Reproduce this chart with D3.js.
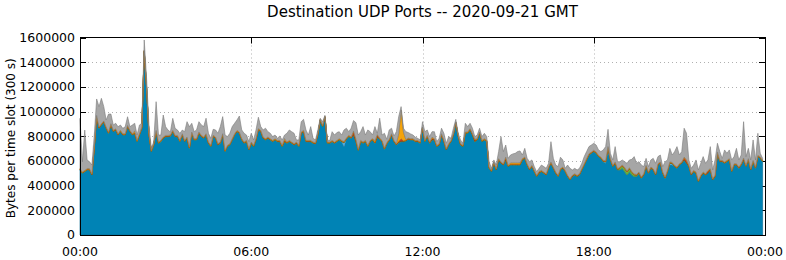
<!DOCTYPE html>
<html><head><meta charset="utf-8">
<script src="https://cdn.jsdelivr.net/npm/d3@7"></script>
<style>body{margin:0;background:#fff}svg{display:block}</style>
</head><body><svg id="c" width="786" height="260"></svg>
<script>
// values in thousands of bytes per 300 s slot, 288 slots (00:00 .. 23:55)
const blue = [
527,500,513,527,527,486,702,958,864,891,913,864,823,891,837,850,810,837,810,810,877,837,810,823,
756,810,864,1485,1188,810,675,729,837,742,756,783,796,796,800,837,796,796,756,810,756,783,702,823,
769,770,824,797,783,810,743,716,797,783,729,743,810,676,716,729,770,810,837,824,770,743,756,689,
743,716,770,851,837,783,770,783,770,756,770,756,756,716,756,743,756,743,729,743,716,824,837,756,
756,756,743,738,810,927,878,951,743,743,756,743,756,770,756,716,775,797,783,810,756,684,756,743,
756,716,756,770,743,791,775,756,694,738,765,810,756,729,748,756,756,762,775,770,770,756,756,743,
864,756,797,743,770,770,716,729,810,756,689,729,756,810,905,797,729,716,824,824,851,810,756,770,
824,756,770,756,540,513,581,527,608,581,567,608,554,567,567,567,567,567,608,621,567,527,554,513,
473,500,513,500,486,540,581,540,500,473,527,540,513,473,446,473,486,473,486,527,567,608,648,662,
676,662,635,621,594,581,676,608,554,581,527,527,540,513,486,513,486,473,473,500,459,486,554,500,
540,527,486,567,581,500,459,513,567,567,554,540,567,581,608,581,554,486,513,500,432,473,500,486,
500,527,446,473,662,594,594,581,594,608,513,567,567,540,567,608,554,608,527,594,540,635,621,594];
const lightBlue = [
0,0,0,0,0,0,0,0,0,0,0,0,0,0,0,0,0,0,0,0,0,0,0,0,
0,0,0,0,0,0,0,0,0,0,0,0,0,0,0,0,0,0,0,0,0,0,0,0,
0,0,0,0,0,0,0,0,0,0,0,0,0,0,0,0,0,0,0,0,0,0,0,0,
0,0,0,0,0,0,0,0,0,0,0,0,0,0,0,0,0,0,0,0,0,0,0,0,
0,0,0,0,0,0,0,0,0,0,0,0,0,0,0,30,0,0,0,0,0,0,0,0,
0,0,0,0,0,0,0,0,0,0,0,0,0,0,0,0,0,0,0,0,0,0,0,0,
0,0,0,0,0,0,0,0,0,0,0,0,0,0,0,0,0,0,0,0,0,0,0,0,
0,0,0,0,0,0,0,0,0,0,0,0,0,0,0,0,0,0,0,0,0,0,0,0,
0,0,0,0,0,0,0,0,0,0,0,0,0,0,0,0,0,0,0,0,0,0,0,0,
0,0,0,0,0,10,30,0,0,0,0,0,0,0,0,0,0,0,0,0,0,0,0,0,
0,0,0,0,0,0,0,0,15,10,0,0,0,0,0,0,0,0,0,0,0,0,0,0,
0,0,0,0,0,0,0,0,0,0,0,0,0,0,0,0,0,0,0,0,0,0,0,0];
const green = [
3,3,3,3,3,3,3,3,3,3,3,3,3,3,3,3,3,3,3,3,3,3,3,3,
3,3,3,3,3,3,3,3,3,3,3,3,3,3,3,3,3,3,3,3,3,3,3,3,
3,3,3,3,3,3,3,3,3,3,3,3,3,3,3,3,3,3,3,3,3,3,3,3,
3,3,3,3,3,3,3,3,3,3,3,3,3,3,3,3,3,3,3,3,3,3,3,3,
3,3,3,3,3,3,3,3,3,3,3,3,3,3,3,3,3,3,3,3,3,3,3,3,
3,3,3,3,3,3,3,3,3,3,3,3,3,3,3,3,3,3,3,3,3,3,3,3,
3,3,3,3,3,3,3,3,3,3,3,3,3,3,3,3,3,3,3,3,3,3,3,3,
3,3,3,3,3,3,3,3,3,3,3,3,3,3,3,3,3,3,3,3,3,3,3,3,
3,3,3,3,3,3,3,3,3,3,3,3,3,3,3,3,3,3,3,3,3,3,3,3,
3,3,3,3,3,3,3,3,3,3,3,15,20,25,25,25,20,15,10,3,3,3,3,3,
3,3,3,3,3,3,3,3,3,3,3,3,3,3,3,3,3,3,3,3,3,3,3,3,
3,3,3,3,3,3,3,3,3,3,3,3,3,3,3,3,3,3,3,3,3,3,3,3];
const red = [
3,3,3,3,3,3,3,3,3,3,3,3,3,3,3,3,3,3,3,3,3,3,3,3,
3,3,3,3,3,3,3,3,3,3,3,3,3,3,3,3,3,3,3,3,3,3,3,3,
3,3,3,3,3,3,3,3,3,3,3,3,3,3,3,3,3,3,3,3,3,3,3,3,
3,3,3,3,3,3,3,3,3,3,3,3,3,3,8,3,3,3,3,3,3,3,3,3,
3,3,3,3,3,3,3,3,3,3,3,3,3,3,3,3,3,3,3,25,15,3,3,3,
3,3,3,3,3,15,3,3,3,3,3,3,3,3,8,22,5,3,3,3,3,3,3,3,
3,3,3,3,10,3,3,3,3,3,3,3,3,3,3,3,3,3,3,3,3,3,12,3,
3,3,3,3,3,3,3,3,3,3,3,15,3,3,3,3,3,3,3,3,3,3,3,3,
3,8,3,3,3,3,3,3,3,3,3,3,3,3,3,3,3,3,3,3,3,3,3,3,
3,3,3,3,3,3,3,3,3,3,3,3,3,3,3,3,3,3,3,3,3,3,3,3,
3,3,3,3,3,3,3,3,3,3,3,3,3,3,15,20,3,3,3,3,3,3,3,3,
15,3,3,3,3,3,3,3,3,3,3,3,3,3,3,8,3,3,3,3,3,3,3,3];
const orange = [
5,5,5,5,5,5,5,5,5,5,5,5,5,5,5,5,5,5,5,5,5,5,5,15,
5,5,5,5,5,5,5,5,5,5,5,5,5,5,5,5,5,5,5,5,5,5,5,5,
5,5,5,5,5,5,5,5,5,5,5,5,5,5,5,5,5,5,5,5,5,5,5,5,
5,5,5,5,5,5,5,5,5,5,5,5,5,5,15,5,5,5,5,5,5,5,5,5,
5,5,5,5,5,5,5,5,5,5,5,5,5,5,5,5,5,5,5,5,5,5,5,5,
5,5,5,5,15,5,5,5,5,5,5,5,5,5,60,230,70,5,5,5,5,5,5,5,
5,5,5,5,10,5,5,5,5,5,5,5,5,5,5,5,5,5,5,5,5,5,5,5,
5,5,5,5,5,5,5,5,5,5,5,5,5,12,12,12,12,12,5,5,5,5,5,5,
5,5,5,5,5,5,5,5,5,5,5,5,5,5,5,5,5,5,5,5,5,5,5,5,
5,5,5,5,5,5,5,5,5,5,5,5,5,5,5,5,5,5,5,5,5,5,5,5,
5,5,5,5,5,5,5,5,5,5,5,5,5,5,5,5,5,5,5,5,5,5,5,5,
5,5,5,5,5,5,5,5,5,5,5,5,5,5,5,5,5,5,5,5,5,5,5,5];
const other = [
407,83,326,69,56,70,97,133,165,205,116,57,146,78,43,44,56,43,43,56,70,29,70,61,
43,70,30,84,70,70,16,16,232,57,43,178,70,43,24,97,57,43,56,29,70,124,164,71,
57,70,83,84,84,125,70,56,48,57,84,124,138,123,70,84,97,84,84,129,70,70,43,56,
70,43,70,92,30,57,84,43,43,30,29,16,35,43,28,70,84,83,84,16,43,83,89,84,
43,111,29,21,30,8,29,8,16,11,70,56,63,56,43,94,79,29,71,84,131,115,70,124,
43,124,70,29,114,10,160,43,119,26,75,44,35,97,140,29,31,64,44,38,29,25,16,16,
43,70,43,43,44,56,29,43,44,57,43,57,16,44,21,16,30,16,70,43,43,44,21,29,
30,30,43,30,43,16,16,29,57,205,98,98,56,63,72,77,91,96,29,70,43,56,43,30,
29,24,43,43,43,30,164,70,56,70,92,57,16,83,83,43,43,43,43,43,57,57,57,56,
56,56,43,44,84,114,139,43,43,124,56,44,40,48,62,62,99,139,90,83,97,57,56,43,
57,83,84,57,56,43,124,84,109,60,111,165,70,84,234,215,43,43,43,97,84,97,124,84,
85,178,70,124,70,71,15,97,57,70,84,57,124,57,70,294,70,83,70,165,57,178,30,16];

const seriesKeys = ["blue","lightBlue","green","red","orange","other"];
const seriesFill = {blue:"#0083b5",lightBlue:"#5ab4e5",green:"#6cb33f",red:"#c8401e",orange:"#f5a30a",other:"#a6a6a6"};
const seriesLine = {blue:"#00668f",lightBlue:"#3a90c0",green:"#4f8f2a",red:"#9a2e12",orange:"#c98000",other:"#7a7a7a"};
const xTickHours = [0,6,12,18,24];
const xTickLabels = ["00:00","06:00","12:00","18:00","00:00"];
const yTicks = [0,200000,400000,600000,800000,1000000,1200000,1400000,1600000];
const titleText = "Destination UDP Ports -- 2020-09-21 GMT";
const yLabelText = "Bytes per time slot (300 s)";

const src = {blue,lightBlue,green,red,orange,other};
const rows = blue.map((_,i)=>{
  const r = {t:i/12};
  seriesKeys.forEach(k=>r[k]=src[k][i]*1000);
  return r;
});

const svg = d3.select("#c");
const L=80,R=765,T=37.5,B=235;
const x = d3.scaleLinear().domain([0,24]).range([L,R]);
const y = d3.scaleLinear().domain([0,1600000]).range([B,T]);
const font = "DejaVu Sans";

// grid
const g = svg.append("g");
g.selectAll("line.gy").data(yTicks.slice(1,-1)).enter().append("line")
  .attr("x1",L).attr("x2",R).attr("y1",d=>Math.round(y(d))+0.5).attr("y2",d=>Math.round(y(d))+0.5)
  .attr("stroke","#b0b0b0").attr("stroke-dasharray","1,3");
g.selectAll("line.gx").data(xTickHours.slice(1,-1)).enter().append("line")
  .attr("y1",T).attr("y2",B).attr("x1",d=>Math.round(x(d))+0.5).attr("x2",d=>Math.round(x(d))+0.5)
  .attr("stroke","#b0b0b0").attr("stroke-dasharray","1,3");

// ticks (inward, on all sides)
const tk = svg.append("g").attr("stroke","#000");
yTicks.forEach(v=>{
  const yy = Math.round(y(v))+0.5;
  tk.append("line").attr("x1",L).attr("x2",L+6).attr("y1",yy).attr("y2",yy);
  tk.append("line").attr("x1",R-6).attr("x2",R).attr("y1",yy).attr("y2",yy);
});
xTickHours.forEach(h=>{
  const xx = Math.round(x(h))+0.5;
  tk.append("line").attr("x1",xx).attr("x2",xx).attr("y1",T).attr("y2",T+6);
  tk.append("line").attr("x1",xx).attr("x2",xx).attr("y1",B-6).attr("y2",B);
});

// stacked areas
const stack = d3.stack().keys(seriesKeys);
const layers = stack(rows);
const area = d3.area().x(d=>x(d.data.t)).y0(d=>y(d[0])).y1(d=>y(d[1]));
const ag = svg.append("g");
layers.forEach(layer=>{
  ag.append("path").attr("d",area(layer)).attr("fill",seriesFill[layer.key])
    .attr("stroke",seriesLine[layer.key]).attr("stroke-width",0.6);
});

// border
svg.append("rect").attr("x",L+0.5).attr("y",T).attr("width",R-L).attr("height",B-T+0.5)
  .attr("fill","none").attr("stroke","#000").attr("stroke-width",1);

// y tick labels
svg.append("g").selectAll("text").data(yTicks).enter().append("text")
  .attr("x",L-5).attr("y",d=>y(d)).attr("dy","0.35em").attr("text-anchor","end")
  .attr("font-family",font).attr("font-size",12.5).text(d=>d);
// x tick labels
svg.append("g").selectAll("text").data(xTickHours).enter().append("text")
  .attr("x",d=>x(d)).attr("y",252).attr("dy","0.35em").attr("text-anchor","middle")
  .attr("font-family",font).attr("font-size",12.5).text((d,i)=>xTickLabels[i]);
// title
svg.append("text").attr("x",(L+R)/2).attr("y",12).attr("dy","0.35em").attr("text-anchor","middle")
  .attr("font-family",font).attr("font-size",15).text(titleText);
// y label
svg.append("text").attr("transform","translate(11,"+((T+B)/2+2)+") rotate(-90)").attr("dy","0.35em")
  .attr("text-anchor","middle").attr("font-family",font).attr("font-size",12).text(yLabelText);
</script></body></html>
